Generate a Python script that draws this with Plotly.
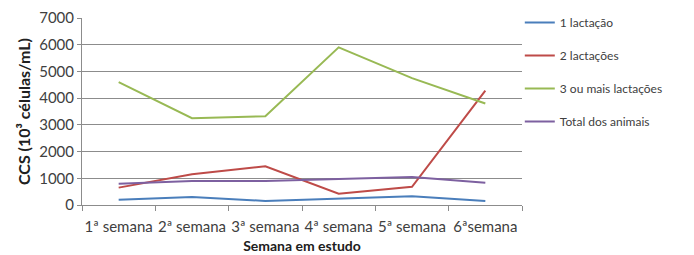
import plotly.graph_objects as go

weeks = ["1ª semana", "2ª semana", "3ª semana", "4ª semana", "5ª semana", "6ªsemana"]
lact1 = [200, 300, 150, 230, 330, 150]
lact2 = [650, 1150, 1450, 420, 680, 4280]
lact3 = [4600, 3250, 3320, 5900, 4750, 3800]
total = [800, 900, 900, 980, 1050, 830]

series = [
    ("1 lactação", lact1, "#4a7ebb"),
    ("2 lactações", lact2, "#be4b48"),
    ("3 ou mais lactações", lact3, "#98b954"),
    ("Total dos animais", total, "#7d60a0"),
]

FONT = "Lato"
fig = go.Figure()
for i, (name, vals, col) in enumerate(series):
    fig.add_trace(go.Scatter(x=weeks, y=vals, name=name, mode="lines",
                             line=dict(color=col, width=2), legendgroup=f"g{i}"))

fig.update_layout(
    width=686, height=247,
    margin=dict(l=74, r=172, t=10, b=50, autoexpand=False),
    paper_bgcolor="white", plot_bgcolor="white",
    font=dict(family=FONT, color="#404040"),
    showlegend=True,
    legend=dict(x=0.995, y=1.0, xanchor="left", yanchor="top", yref="container",
                font=dict(family=FONT, size=12, color="#404040"),
                tracegroupgap=14, bgcolor="rgba(0,0,0,0)", maxheight=1.0),
    xaxis=dict(
        range=[-0.5, len(weeks) - 0.5], automargin=False, tickangle=0,
        showline=True, linecolor="#8c8c8c", linewidth=1,
        ticks="outside", tickson="boundaries", ticklen=5, tickcolor="#8c8c8c",
        ticklabelstandoff=8,
        tickfont=dict(family=FONT, size=15, color="#404040"),
        title=dict(text="<b>Semana em estudo</b>", font=dict(family=FONT, size=14, color="#202020"), standoff=7),
        showgrid=False,
    ),
    yaxis=dict(
        range=[0, 7000], dtick=1000, automargin=False,
        showline=True, linecolor="#8c8c8c", linewidth=1,
        ticks="outside", ticklen=4, tickcolor="#8c8c8c",
        showgrid=True, gridcolor="#8c8c8c", gridwidth=1,
        zeroline=False,
        tickfont=dict(family=FONT, size=15, color="#404040"),
        title=dict(text="<b>CCS (10³ células/mL)</b>", font=dict(family=FONT, size=16, color="#202020"), standoff=4),
    ),
)

fig.write_html("out.html")
